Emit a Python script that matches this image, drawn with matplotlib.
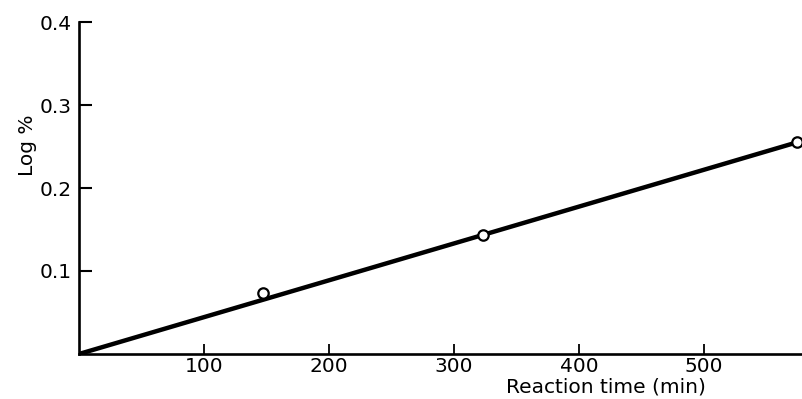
import matplotlib
matplotlib.use("Agg")
import matplotlib.pyplot as plt

# Data
time_points = [147, 323, 574]          # Reaction time (min)
log_pct_points = [0.0735, 0.143, 0.255]
fit_time = [0, 580]
fit_log = [0.0, 0.2575]

x_ticks = [100, 200, 300, 400, 500]
x_tick_labels = ["100", "200", "300", "400", "500"]
y_ticks = [0.1, 0.2, 0.3, 0.4]
y_tick_labels = ["0.1", "0.2", "0.3", "0.4"]

fig = plt.figure(figsize=(8.02, 3.99), dpi=100)
ax = fig.add_axes([79/802, 45/399, 723/802, 332/399])

ax.plot(fit_time, fit_log, color="black", lw=3.2, solid_capstyle="butt", zorder=2)
ax.plot(time_points, log_pct_points, linestyle="none", marker="o", markersize=7.5,
        markerfacecolor="white", markeredgecolor="black", markeredgewidth=1.6, zorder=3)

ax.set_xlim(0, 578.4)
ax.set_ylim(0, 0.4)
for s in ["top", "right"]:
    ax.spines[s].set_visible(False)
for s in ["left", "bottom"]:
    ax.spines[s].set_linewidth(1.9)

ax.set_xticks(x_ticks)
ax.set_xticklabels(x_tick_labels)
ax.set_yticks(y_ticks)
ax.set_yticklabels(y_tick_labels)
ax.tick_params(axis="x", direction="in", length=7, width=1.3, pad=2, labelsize=14.5)
ax.tick_params(axis="y", direction="in", length=9, width=1.5, pad=5, labelsize=14.5)

ax.set_xlabel("Reaction time (min)", fontsize=14.5, ha="right")
ax.xaxis.set_label_coords(0.867, -0.07)
ax.set_ylabel("Log %", fontsize=14.5)
ax.yaxis.set_label_coords(-0.058, 0.63)

fig.savefig("out.png", dpi=100)
